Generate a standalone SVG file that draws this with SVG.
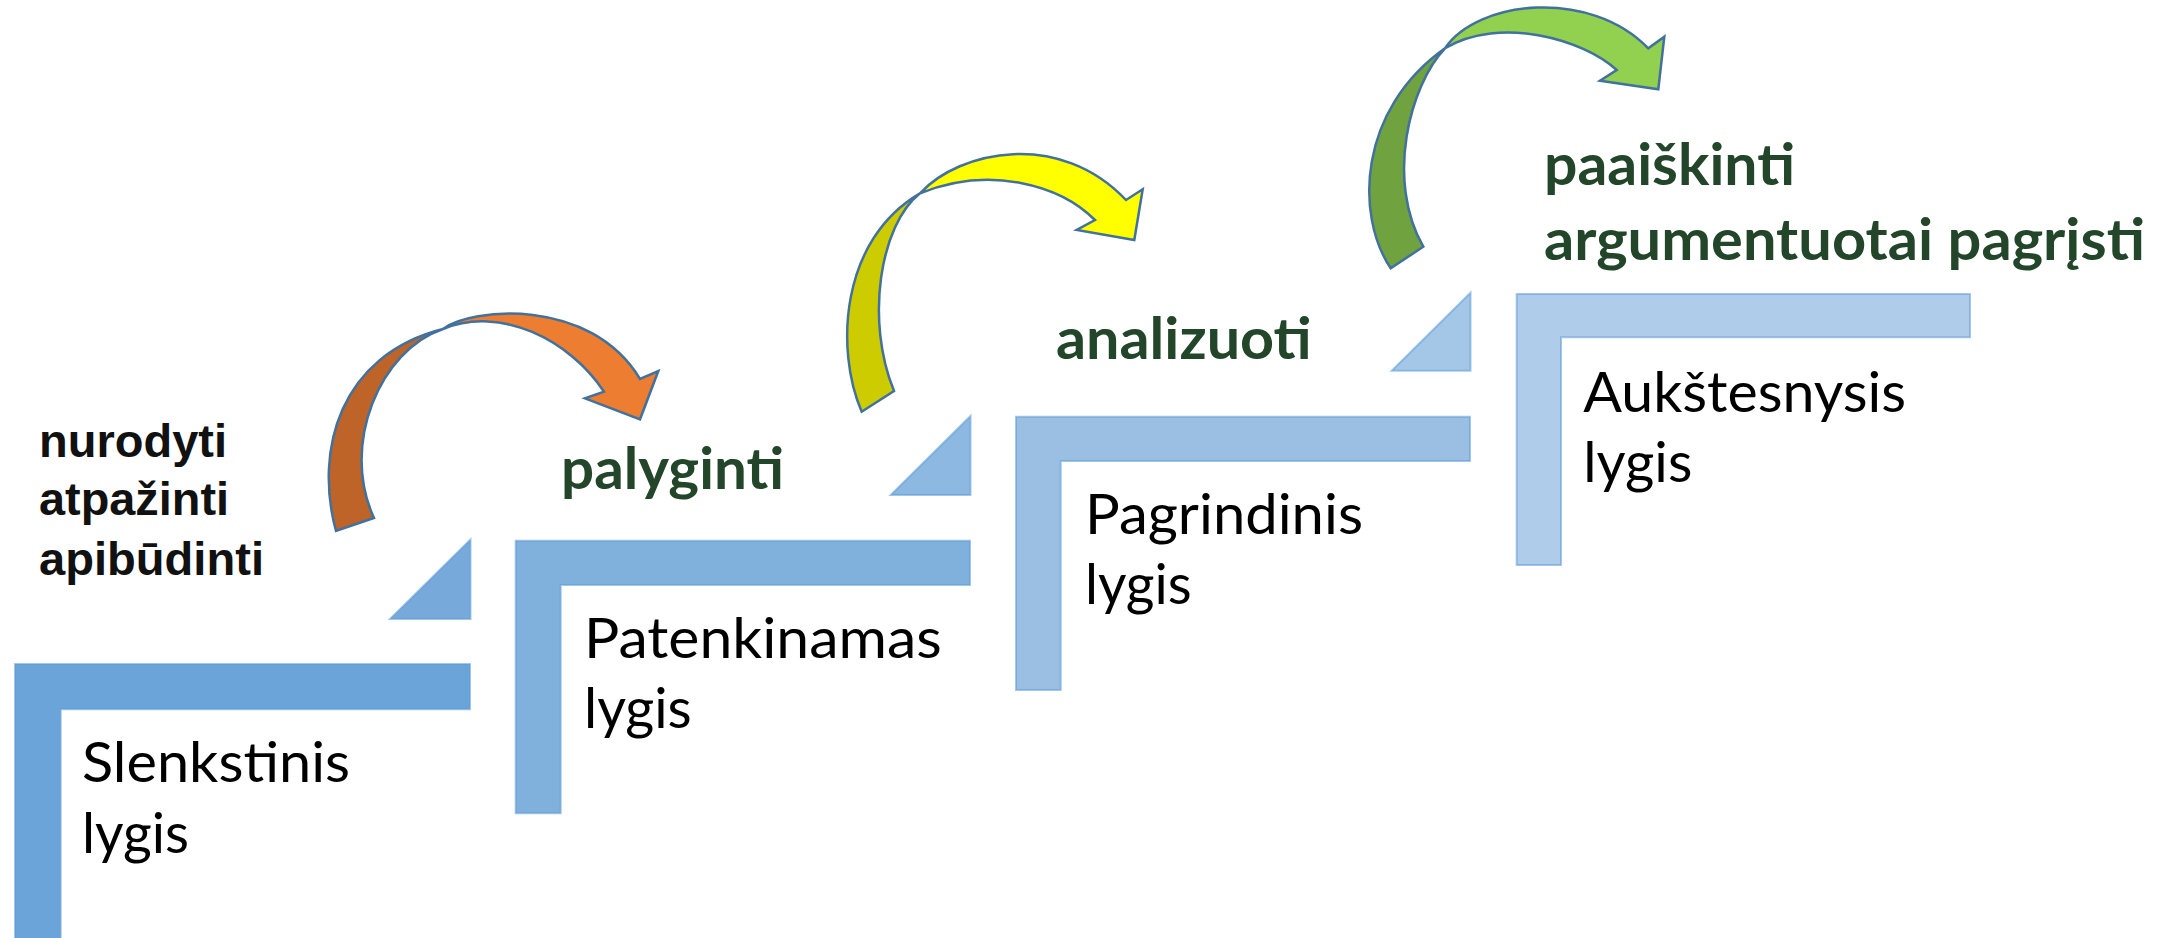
<svg xmlns="http://www.w3.org/2000/svg" width="2171" height="938" viewBox="0 0 2171 938">
<style>
.step{stroke:#5B9BD5;stroke-width:2;stroke-opacity:0.55}
.lvl{font-family:Lato,"Open Sans","Liberation Sans",sans-serif;font-size:56px;fill:#000}
.verb{font-family:Lato,"Open Sans","Liberation Sans",sans-serif;font-weight:bold;font-size:57px;fill:#23462A}
.base{font-family:"Liberation Sans",Arial,sans-serif;font-weight:bold;font-size:47px;fill:#111}
.arr{stroke:#41719C;stroke-width:2.5;stroke-linejoin:miter}
</style>
<rect width="2171" height="938" fill="#fff"/>

<g id="step1">
<polygon class="step" fill="#6BA4D8" points="15,664 470,664 470,709.3 60.7,709.3 60.7,940 15,940"/>
<text class="lvl" x="82" y="781.7" textLength="268" lengthAdjust="spacingAndGlyphs">Slenkstinis</text>
<text class="lvl" x="82" y="853.3" textLength="107" lengthAdjust="spacingAndGlyphs">lygis</text>
</g>
<g id="tri1"><polygon class="step" fill="#77AADA" points="470.5,539.5 470.5,619 390,619"/></g>

<g id="step2">
<polygon class="step" fill="#80B1DC" points="515.7,540.7 970,540.7 970,585 560.7,585 560.7,813.3 515.7,813.3"/>
<text class="lvl" x="584" y="657.7" textLength="357.7" lengthAdjust="spacingAndGlyphs">Patenkinamas</text>
<text class="lvl" x="584" y="728.3" textLength="107.7" lengthAdjust="spacingAndGlyphs">lygis</text>
</g>
<g id="tri2"><polygon class="step" fill="#8DB8E1" points="970.5,416 970.5,495 890.7,495"/></g>

<g id="step3">
<polygon class="step" fill="#9BBFE3" points="1016,416.7 1470,416.7 1470,461 1060.7,461 1060.7,690 1016,690"/>
<text class="lvl" x="1085" y="534" textLength="278" lengthAdjust="spacingAndGlyphs">Pagrindinis</text>
<text class="lvl" x="1085" y="604" textLength="106.7" lengthAdjust="spacingAndGlyphs">lygis</text>
</g>
<g id="tri3"><polygon class="step" fill="#A4C6E7" points="1470.5,292.7 1470.5,370.7 1391.7,370.7"/></g>

<g id="step4">
<polygon class="step" fill="#AFCDEA" points="1516.7,294 1970,294 1970,337.3 1561,337.3 1561,565 1516.7,565"/>
<text class="lvl" x="1583.3" y="411.7" textLength="322.7" lengthAdjust="spacingAndGlyphs">Aukštesnysis</text>
<text class="lvl" x="1583.3" y="481.7" textLength="109" lengthAdjust="spacingAndGlyphs">lygis</text>
</g>

<g id="label-base">
<text class="base" x="39" y="456.7" textLength="188" lengthAdjust="spacingAndGlyphs">nurodyti</text>
<text class="base" x="39" y="515" textLength="190" lengthAdjust="spacingAndGlyphs">atpažinti</text>
<text class="base" x="39" y="575" textLength="225" lengthAdjust="spacingAndGlyphs">apibūdinti</text>
</g>
<g id="label-palyginti"><text class="verb" x="561" y="489.3" textLength="223" lengthAdjust="spacingAndGlyphs">palyginti</text></g>
<g id="label-analizuoti"><text class="verb" x="1056" y="359.3" textLength="255.7" lengthAdjust="spacingAndGlyphs">analizuoti</text></g>
<g id="label-paaiskinti">
<text class="verb" x="1544" y="185" textLength="251" lengthAdjust="spacingAndGlyphs">paaiškinti</text>
<text class="verb" x="1544" y="260" textLength="601" lengthAdjust="spacingAndGlyphs">argumentuotai pagrįsti</text>
</g>

<g id="connectors">
<g id="arrow1">
<path class="arr" fill="#BE6428" d="M336,531 C314,450 340,355 443,329 C380,350 340,445 374,518 Z"/>
<path class="arr" fill="#ED7D31" d="M443,329 C470,308 590,296 640,379 L658.3,371 L640,419.3 L585,398.3 L604,391.7 C570,340 500,305 443,329 Z"/>
</g>
<g id="arrow2">
<path class="arr" fill="#CCCC00" d="M861.7,411.7 C835,350 840,240 920,193.3 C880,225 865,320 894,391 Z"/>
<path class="arr" fill="#FFFF00" d="M920,193.3 C960,150 1060,130 1126,200 L1142.7,189.3 L1134.3,240 L1076.7,230 L1095,220 C1060,185 990,165 920,193.3 Z"/>
</g>
<g id="arrow3">
<path class="arr" fill="#70A33F" d="M1390.7,268.3 C1355,215 1358,110 1445,48.3 C1410,85 1385,180 1423.3,246.7 Z"/>
<path class="arr" fill="#92D050" d="M1445,48.3 C1478,0 1590,-12 1648.3,48.3 L1664.3,36.7 L1658.3,89.3 L1600,80.7 L1616.7,70 C1585,40 1500,15 1445,48.3 Z"/>
</g>
</g>
</svg>
